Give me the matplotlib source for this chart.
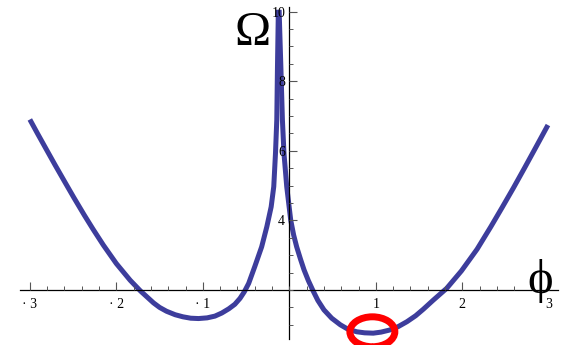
import numpy as np
import matplotlib.pyplot as plt
from matplotlib.patches import Ellipse

# curve samples, left branch (phi < singular point) and right branch
phi_left = [-3.00, -2.91, -2.80, -2.71, -2.59, -2.49, -2.37, -2.27, -2.15, -2.00,
            -1.84, -1.72, -1.57, -1.50, -1.42, -1.32, -1.23, -1.14, -1.05, -0.95,
            -0.86, -0.78, -0.70, -0.63, -0.57, -0.52, -0.47, -0.40, -0.32, -0.26,
            -0.21, -0.18, -0.16, -0.145, -0.137, -0.131, -0.127]
omega_left = [6.90, 6.49, 6.00, 5.60, 5.08, 4.65, 4.15, 3.75, 3.29, 2.76,
              2.28, 1.97, 1.63, 1.50, 1.39, 1.29, 1.23, 1.19, 1.18, 1.20,
              1.25, 1.34, 1.46, 1.59, 1.76, 1.95, 2.19, 2.67, 3.24, 3.82,
              4.39, 4.97, 5.93, 6.89, 8.42, 9.38, 10.05]

phi_right = [-0.118, -0.110, -0.098, -0.080, -0.062, -0.030, 0.016, 0.050, 0.085, 0.13,
             0.17, 0.22, 0.27, 0.33, 0.40, 0.49, 0.59, 0.68, 0.78, 0.87,
             0.97, 1.06, 1.16, 1.26, 1.36, 1.46, 1.55, 1.66, 1.82, 1.99,
             2.17, 2.33, 2.46, 2.59, 2.72, 2.85, 2.99]
omega_right = [10.05, 9.38, 8.42, 6.89, 5.93, 4.97, 4.01, 3.58, 3.24, 2.88,
               2.58, 2.27, 2.00, 1.70, 1.43, 1.19, 1.00, 0.87, 0.80, 0.77,
               0.76, 0.79, 0.85, 0.95, 1.09, 1.26, 1.45, 1.70, 2.05, 2.55,
               3.17, 3.82, 4.37, 4.93, 5.51, 6.10, 6.74]

xtick_vals = [-3, -2, -1, 1, 2, 3]
xtick_labels = ['· 3', '· 2', '· 1', '1', '2', '3']
ytick_vals = [4, 6, 8, 10]
ytick_labels = ['4', '6', '8', '10']

# marked minimum
min_phi, min_omega = 0.96, 0.80

serif = ['Liberation Serif', 'DejaVu Serif']
plt.rcParams['font.family'] = serif

fig = plt.figure(figsize=(5.63, 3.45), dpi=100)
ax = fig.add_axes([0, 0, 1, 1])
ax.set_xlim(-3.345, 3.164)
ax.set_ylim(0.42, 10.333)
ax.set_axisbelow(False)  # tick labels over the curve

curve_color = '#3d3d9c'
for xs, ys in [(phi_left, omega_left), (phi_right, omega_right)]:
    ax.plot(xs, ys, color=curve_color, lw=3.6, solid_capstyle='butt',
            solid_joinstyle='round', zorder=2)

ring = Ellipse((min_phi, min_omega), 0.52, 0.86, fill=False, edgecolor='#ff0000',
               lw=5.0, clip_on=False, zorder=3)
ax.add_patch(ring)

# axes through (0, 2)
for s in ['top', 'right']:
    ax.spines[s].set_visible(False)
ax.spines['left'].set_position(('data', 0))
ax.spines['bottom'].set_position(('data', 2))
ax.spines['left'].set_bounds(0.59, 10.13)
ax.spines['bottom'].set_bounds(-3.11, 3.11)
ax.spines['left'].set_linewidth(0.9)
ax.spines['bottom'].set_linewidth(0.9)

ax.set_xticks(xtick_vals)
ax.set_xticklabels(xtick_labels)
ax.set_xticks(np.arange(-3.0, 3.01, 0.2), minor=True)
ax.set_yticks(ytick_vals)
ax.set_yticklabels(ytick_labels)
ax.set_yticks(np.arange(1.0, 10.01, 0.5), minor=True)

ax.tick_params(axis='x', which='major', direction='in', length=6, width=0.8,
               color='#555555', pad=6, labelsize=10)
ax.tick_params(axis='x', which='minor', direction='in', length=3, width=0.7, color='#555555')
ax.tick_params(axis='y', which='major', direction='in', length=6, width=0.8,
               color='#555555', pad=3, labelsize=10)
ax.tick_params(axis='y', which='minor', direction='in', length=3, width=0.7, color='#555555')

ax.text(-0.42, 9.04, 'Ω', fontsize=35, ha='center', va='baseline', zorder=5)
ax.text(2.90, 1.91, 'ϕ', fontsize=35, ha='center', va='baseline', zorder=5)

fig.savefig('out.png', dpi=100)
